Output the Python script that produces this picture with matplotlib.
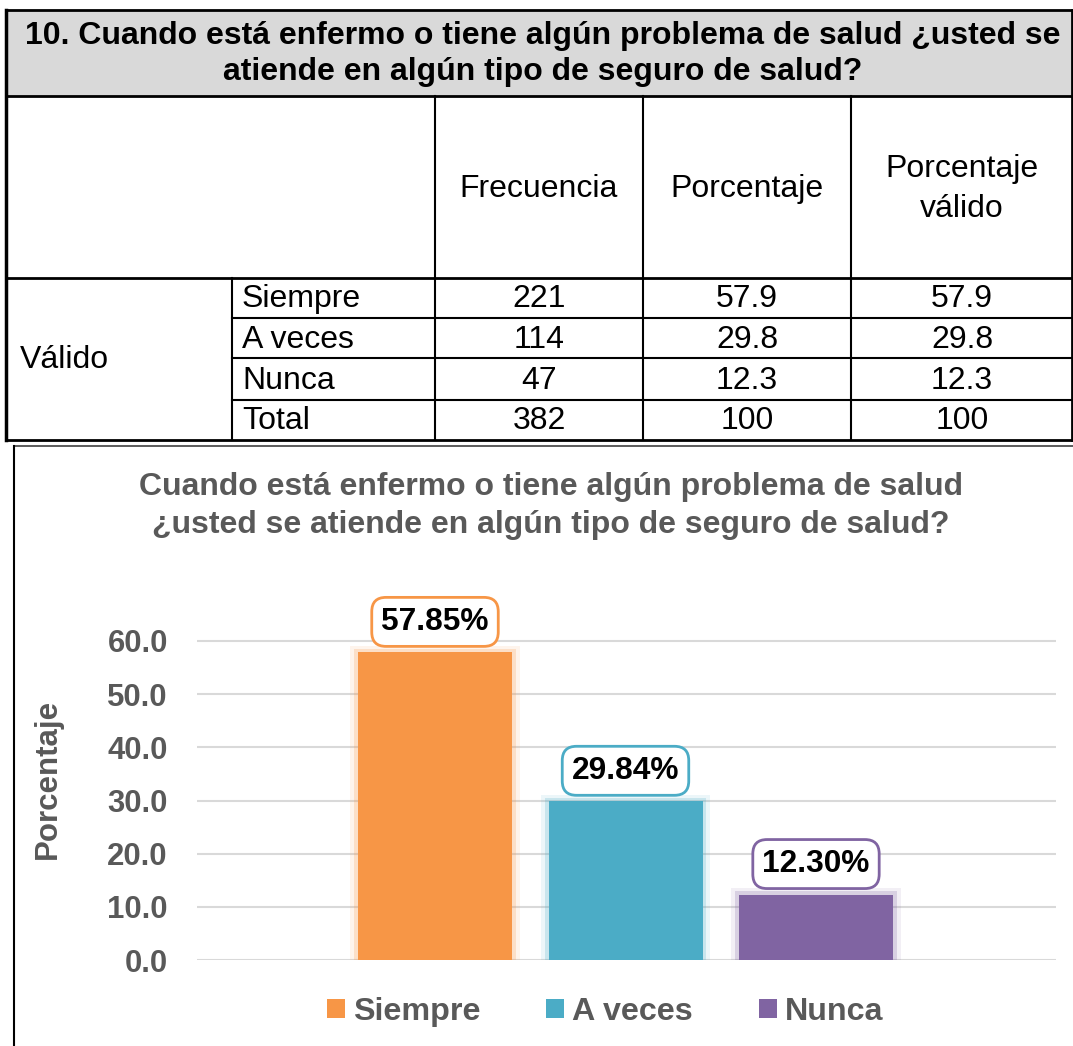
import matplotlib
matplotlib.use("Agg")
import matplotlib.pyplot as plt
from matplotlib.lines import Line2D
from matplotlib.patches import Rectangle, Patch

plt.rcParams['font.family'] = ['Liberation Sans', 'DejaVu Sans']

# ---- data ----
table_title = "10. Cuando está enfermo o tiene algún problema de salud ¿usted se\natiende en algún tipo de seguro de salud?"
col_headers = ["Frecuencia", "Porcentaje", "Porcentaje\nválido"]
row_group = "Válido"
row_labels = ["Siempre", "A veces", "Nunca", "Total"]
frecuencia = ["221", "114", "47", "382"]
porcentaje = ["57.9", "29.8", "12.3", "100"]
porc_valido = ["57.9", "29.8", "12.3", "100"]

chart_title = "Cuando está enfermo o tiene algún problema de salud\n¿usted se atiende en algún tipo de seguro de salud?"
categories = ["Siempre", "A veces", "Nunca"]
values = [57.85, 29.84, 12.30]
colors = ["#F79646", "#4BACC6", "#8064A2"]
yticks = [0, 10, 20, 30, 40, 50, 60]

W, H = 1073, 1046
fig = plt.figure(figsize=(W / 100, H / 100), dpi=100)

def fx(x):
    return x / W

def fy(y):
    return 1 - y / H

def hline(y, x0, x1, lw=2.0, color="black"):
    fig.add_artist(Line2D([fx(x0), fx(x1)], [fy(y), fy(y)], color=color, lw=lw, transform=fig.transFigure))

def vline(x, y0, y1, lw=2.0, color="black"):
    fig.add_artist(Line2D([fx(x), fx(x)], [fy(y0), fy(y1)], color=color, lw=lw, transform=fig.transFigure))

TFS = 23

# ---- table ----
fig.add_artist(Rectangle((fx(6), fy(96)), fx(1073) - fx(6), fy(10) - fy(96),
                         facecolor="#D9D9D9", edgecolor="none", transform=fig.transFigure, zorder=0))
hline(10, 6, 1073)
hline(96, 6, 1073)
hline(278, 6, 1073)
for y in (318, 358, 400):
    hline(y, 232, 1073, lw=1.5)
hline(440, 6, 1073)
vline(6, 10, 440, lw=2.5)
vline(1072, 10, 440, lw=2.0)
for x in (435, 643, 851):
    vline(x, 96, 440, lw=1.5)
vline(232, 278, 440, lw=1.5)

fig.text(fx(543), fy(54), table_title, ha="center", va="center", fontsize=TFS,
         fontweight="bold", color="black", linespacing=1.3)

col_centers = [539, 747, 962]
for cx, h in zip(col_centers, col_headers):
    fig.text(fx(cx), fy(189), h, ha="center", va="center", fontsize=TFS, color="black",
             linespacing=1.4)

row_centers = [299, 340, 381, 421]
fig.text(fx(20), fy(360), row_group, ha="left", va="center", fontsize=TFS, color="black")
for ry, lab, a, b, c in zip(row_centers, row_labels, frecuencia, porcentaje, porc_valido):
    fig.text(fx(242), fy(ry), lab, ha="left", va="center", fontsize=TFS, color="black")
    for cx, v in zip(col_centers, (a, b, c)):
        fig.text(fx(cx), fy(ry), v, ha="center", va="center", fontsize=TFS, color="black")

# ---- chart frame ----
hline(446, 14, 1073, lw=1.2, color="#404040")
vline(14, 446, 1046, lw=1.5, color="black")

fig.text(fx(551), fy(506), chart_title, ha="center", va="center", fontsize=23,
         fontweight="bold", color="#595959", linespacing=1.35)

# ---- axes ----
ax_left, ax_right, ax_bottom = 197, 1056, 960
px_per_unit = (960 - 641) / 60.0
ymax = 70
ax_top = ax_bottom - ymax * px_per_unit
ax = fig.add_axes([fx(ax_left), fy(ax_bottom), fx(ax_right) - fx(ax_left), fy(ax_top) - fy(ax_bottom)])

xpos = list(range(len(categories)))
bw = 154 / 190.5
# soft glow
for i, (v, c) in enumerate(zip(values, colors)):
    ax.bar(i, v + 1.2, width=bw + 0.08, color=c, alpha=0.10, zorder=2, linewidth=0)
    ax.bar(i, v + 0.6, width=bw + 0.04, color=c, alpha=0.22, zorder=2, linewidth=0)
bars = ax.bar(xpos, values, width=bw, color=colors, zorder=3, linewidth=0)

for i, (v, c) in enumerate(zip(values, colors)):
    ax.annotate(f"{v:.2f}%", xy=(i, v), xytext=(0, 22), textcoords="offset points",
                ha="center", va="center", fontsize=22.8, fontweight="bold", color="black",
                bbox=dict(boxstyle="round,pad=0.3,rounding_size=0.45", facecolor="white",
                          edgecolor=c, linewidth=2), zorder=5)

ax.set_xlim((ax_left - 435) / 190.5, (ax_right - 435) / 190.5)
ax.set_ylim(0, ymax)
ax.set_yticks(yticks)
ax.set_yticklabels([f"{t:.1f}" for t in yticks], fontsize=22.4, fontweight="bold", color="#595959")
ax.tick_params(axis="y", length=0, pad=21)
ax.set_xticks([])
for s in ax.spines.values():
    s.set_visible(False)
ax.grid(axis="y", color="#D9D9D9", linewidth=1.5, zorder=0)
ax.set_axisbelow(True)
ax.patch.set_alpha(0)

fig.text(fx(48), fy(779), "Porcentaje", rotation=90, ha="center", va="center",
         fontsize=22.5, fontweight="bold", color="#595959")

handles = [Patch(facecolor=c, edgecolor="none") for c in colors]
leg = fig.legend(handles, categories, loc="center", bbox_to_anchor=(fx(605), fy(1012)),
                 ncol=3, frameon=False, handlelength=0.55, handleheight=0.55, handletextpad=0.25,
                 columnspacing=2.05, prop={"size": 23.2, "weight": "bold"})
for t in leg.get_texts():
    t.set_color("#595959")

fig.savefig("out.png", dpi=100)
